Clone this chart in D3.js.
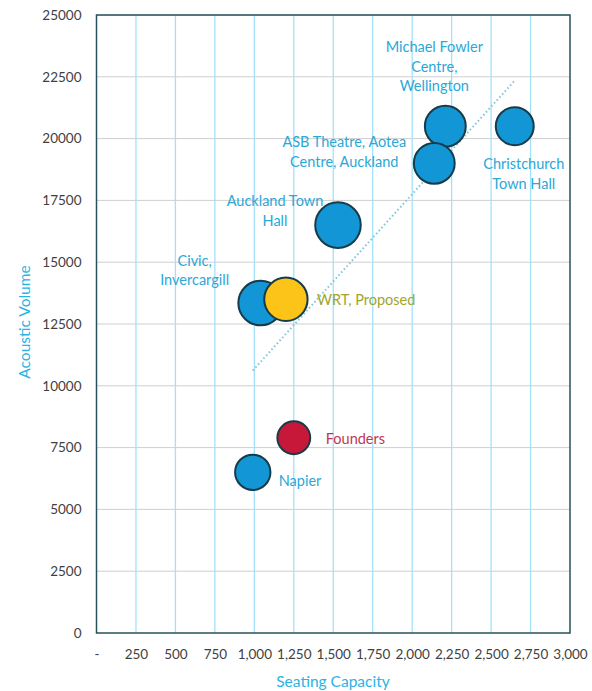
<!DOCTYPE html>
<html><head><meta charset="utf-8">
<script src="https://cdn.jsdelivr.net/npm/d3@7"></script>
<style>body{margin:0;background:#fff;font-family:Lato,"Open Sans",sans-serif;}</style>
</head><body><div id="chart"></div>
<script>
const venues = ["Michael Fowler Centre, Wellington","Christchurch Town Hall","ASB Theatre, Aotea Centre, Auckland","Auckland Town Hall","Civic, Invercargill","Napier","Founders","WRT, Proposed"];
const seating = [2210, 2650, 2140, 1530, 1040, 990, 1250, 1200];
const acousticVolume = [20500, 20500, 19000, 16500, 13350, 6500, 7900, 13500];
const bubbleSize = [0.79, 0.68, 0.79, 0.98, 0.94, 0.59, 0.51, 0.89];
const group = ["existing","existing","existing","existing","existing","existing","founders","proposed"];
const labelLines = [["Michael Fowler","Centre,","Wellington"],["Christchurch","Town Hall"],["ASB Theatre, Aotea","Centre, Auckland"],["Auckland Town","Hall"],["Civic,","Invercargill"],["Napier"],["Founders"],["WRT, Proposed"]];
const xTicks = [0,250,500,750,1000,1250,1500,1750,2000,2250,2500,2750,3000];
const yTicks = [0,2500,5000,7500,10000,12500,15000,17500,20000,22500,25000];

const W=592,H=691;
const svg=d3.select("#chart").append("svg").attr("width",W).attr("height",H);
const x=d3.scaleLinear().domain([0,3000]).range([96.5,570]);
const y=d3.scaleLinear().domain([0,25000]).range([633,15]);
const r=d3.scaleSqrt().domain([0,1]).range([0,23]);
const fills={existing:"#1296d6",founders:"#c8183a",proposed:"#fcc419"};
const labColors={existing:"#2aa8d8",founders:"#c23553",proposed:"#9ea52e"};

// gridlines
svg.append("g").selectAll("line").data(yTicks.slice(1)).join("line")
  .attr("x1",x(0)).attr("x2",x(3000)).attr("y1",d=>y(d)).attr("y2",d=>y(d))
  .attr("stroke","#cfcfcf").attr("stroke-width",1);
svg.append("g").selectAll("line").data(xTicks.slice(1,-1)).join("line")
  .attr("y1",y(0)).attr("y2",y(25000)).attr("x1",d=>x(d)).attr("x2",d=>x(d))
  .attr("stroke","#a2e2f8").attr("stroke-width",1.3);
// frame
svg.append("rect").attr("x",x(0)).attr("y",y(25000)).attr("width",x(3000)-x(0)).attr("height",y(0)-y(25000))
  .attr("fill","none").attr("stroke","#27515c").attr("stroke-width",1.5);

// axes
const fmtX=d=>d===0?"-":d3.format(",")(d);
const xAxis=svg.append("g").attr("transform",`translate(0,${y(0)})`).call(d3.axisBottom(x).tickValues(xTicks).tickFormat(fmtX).tickSize(0).tickPadding(16));
const yAxis=svg.append("g").attr("transform",`translate(${x(0)},0)`).call(d3.axisLeft(y).tickValues(yTicks).tickFormat(d3.format("d")).tickSize(0).tickPadding(15));
[xAxis,yAxis].forEach(a=>{a.select(".domain").remove();a.selectAll("text").attr("fill","#3f3f3f").attr("font-size",13.5).attr("font-family","Lato, sans-serif");});

// axis titles
svg.append("text").attr("x",333).attr("y",687).attr("text-anchor","middle").attr("fill","#2ab4e4").attr("font-size",15.5).text("Seating Capacity");
svg.append("text").attr("transform","translate(30,322) rotate(-90)").attr("text-anchor","middle").attr("fill","#2ab4e4").attr("font-size",15.5).text("Acoustic Volume");

// trendline: linear regression on existing venues
const idx=d3.range(venues.length).filter(i=>group[i]==="existing");
const mx=d3.mean(idx,i=>seating[i]), my=d3.mean(idx,i=>acousticVolume[i]);
const slope=d3.sum(idx,i=>(seating[i]-mx)*(acousticVolume[i]-my))/d3.sum(idx,i=>(seating[i]-mx)**2);
const icpt=my-slope*mx;
const x0=d3.min(idx,i=>seating[i]), x1=d3.max(idx,i=>seating[i]);
svg.append("line").attr("x1",x(x0)).attr("y1",y(icpt+slope*x0)).attr("x2",x(x1)).attr("y2",y(icpt+slope*x1))
  .attr("stroke","#7fc6d6").attr("stroke-width",2).attr("stroke-dasharray","1.5,2.5");

// bubbles (draw order: later on top)
const order=[4,7,3,0,2,1,6,5];
svg.append("g").selectAll("circle").data(order).join("circle")
  .attr("cx",i=>x(seating[i])).attr("cy",i=>y(acousticVolume[i])).attr("r",i=>r(bubbleSize[i]))
  .attr("fill",i=>fills[group[i]]).attr("stroke","#173b48").attr("stroke-width",2);

// labels
const labelPos=[
  {dx:-11,dy:-74,anchor:"middle"},
  {dx:9,dy:43,anchor:"middle"},
  {dx:-90,dy:-16,anchor:"middle"},
  {dx:-63,dy:-19,anchor:"middle"},
  {dx:-66,dy:-37,anchor:"middle"},
  {dx:26,dy:14,anchor:"start"},
  {dx:32,dy:6,anchor:"start"},
  {dx:31,dy:6,anchor:"start"}
];
venues.forEach((v,i)=>{
  const p=labelPos[i];
  const t=svg.append("text").attr("text-anchor",p.anchor).attr("fill",labColors[group[i]]).attr("font-size",14.5)
    .attr("x",x(seating[i])+p.dx).attr("y",y(acousticVolume[i])+p.dy);
  labelLines[i].forEach((l,k)=>t.append("tspan").attr("x",x(seating[i])+p.dx).attr("dy",k===0?0:19.5).text(l));
});
</script></body></html>
